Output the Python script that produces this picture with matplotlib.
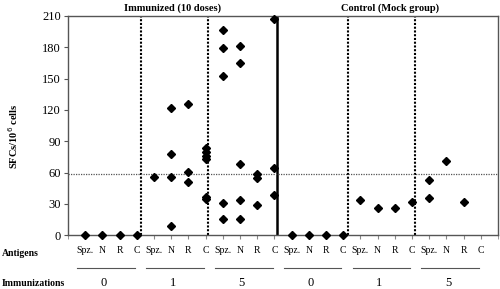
import matplotlib.pyplot as plt
from matplotlib import transforms

plt.rcParams['font.family'] = ['Liberation Serif', 'DejaVu Serif']

# antigen labels, one per x position
antigens = ["Spz.", "N", "R", "C"] * 6
immunizations = ["0", "1", "5", "0", "1", "5"]
group_titles = ["Immunized (10 doses)", "Control (Mock group)"]

# SFCs/10^6 cells, one list per x position
sfc_values = [
    # immunized, 0 immunizations
    [0], [0], [0], [0],
    # immunized, 1 immunization
    [56], [122, 78, 56, 9], [126, 61, 51], [84, 80, 76, 73, 37, 35],
    # immunized, 5 immunizations
    [197, 179, 153, 31, 16], [181, 165, 68, 34, 16], [59, 55, 29], [207, 64, 39],
    # control, 0 immunizations
    [0], [0], [0], [0],
    # control, 1 immunization
    [34], [26], [26], [32],
    # control, 5 immunizations
    [53, 36], [71], [32], [],
]
cutoff = 59
dotted_x = [4.24, 8.13, 16.3, 20.19]
solid_x = 12.18

fig = plt.figure(figsize=(5.0, 2.89), dpi=100)
ax = fig.add_axes([68 / 500, 1 - 235.3 / 289, 430 / 500, (235.3 - 16) / 289])

for i, vals in enumerate(sfc_values):
    xs = [i + 1] * len(vals)
    ax.plot(xs, vals, linestyle="none", marker="D", markersize=4.2,
            color="black", clip_on=False, zorder=3)

for x in dotted_x:
    ax.axvline(x, color="black", linestyle=(0, (1, 0.8)), linewidth=1.5)
ax.axvline(solid_x, color="black", linewidth=1.8)
ax.axhline(cutoff, color="#555555", linestyle=(0, (1, 1)), linewidth=0.9)

ax.set_xlim(0, 25)
ax.set_ylim(0, 210)
ax.set_yticks(range(0, 211, 30))
ax.set_xticks(range(0, 26), minor=True)
ax.set_xticks(range(1, 25))
ax.set_xticklabels(antigens, fontsize=7)
ax.tick_params(axis="x", which="both", length=3, color="#888888", pad=5)
ax.tick_params(axis="y", labelsize=9, length=3, color="#555555", pad=2)
for sp in ax.spines.values():
    sp.set_color("#555555")
    sp.set_linewidth(1.0)

ax.set_ylabel("SFCs/10$^{6}$ cells", fontsize=7.5, fontweight="bold")
ax.yaxis.set_label_coords(-0.112, 0.45)

# group titles above the axes
fig.text(173 / 500, 1 - 8 / 289, group_titles[0], ha="center", va="center",
         fontsize=7.5, fontweight="bold")
fig.text(390 / 500, 1 - 8 / 289, group_titles[1], ha="center", va="center",
         fontsize=7.5, fontweight="bold")

# row labels under the axes
fig.text(2 / 500, 1 - 254 / 289, "Antigens", ha="left", va="center",
         fontsize=7, fontweight="bold")
fig.text(2 / 500, 1 - 283 / 289, "Immunizations", ha="left", va="center",
         fontsize=7, fontweight="bold")

# underlines and immunization counts for each group
trans = transforms.blended_transform_factory(ax.transData, fig.transFigure)
for k, label in enumerate(immunizations):
    start = k * 4 + 0.55
    end = k * 4 + 3.9
    ax.plot([start, end], [1 - 267.5 / 289] * 2, color="#555555", linewidth=0.8,
            transform=trans, clip_on=False)
    ax.text(k * 4 + 2.1, 1 - 283 / 289, label, transform=trans, ha="center",
            va="center", fontsize=9)

fig.savefig("out.png", dpi=100)
